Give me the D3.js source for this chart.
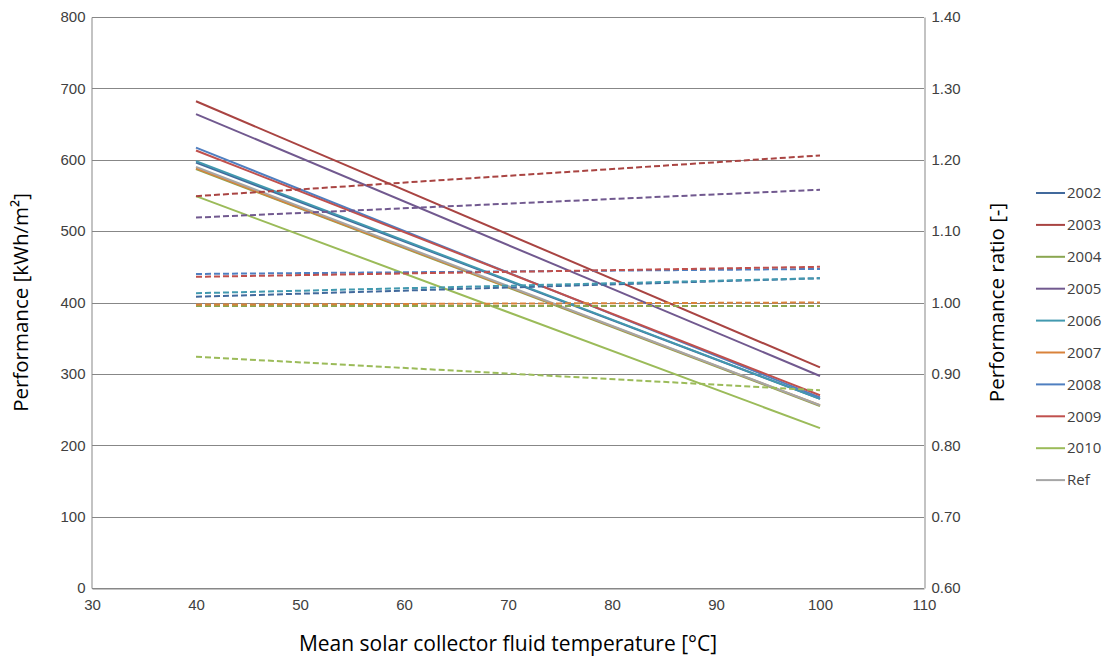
<!DOCTYPE html>
<html>
<head>
<meta charset="utf-8">
<script src="https://cdn.jsdelivr.net/npm/d3@7"></script>
<style>
  html, body { margin: 0; padding: 0; background: #fff; }
  svg { display: block; font-family: "Open Sans", "Noto Sans", sans-serif; }
</style>
</head>
<body>
<svg id="chart" width="1105" height="657"></svg>
<script>
// Series names and colours
const seriesNames = ["2002", "2003", "2004", "2005", "2006", "2007", "2008", "2009", "2010", "Ref"];
const seriesColors = ["#41699c", "#a94442", "#8aa650", "#71598f", "#4299af", "#d9823b", "#4f7fc0", "#c0504d", "#9bbb59", "#a6a6a6"];

// Mean fluid temperature at the two ends of each line [°C]
const temperatures = [40, 100];

// Annual performance [kWh/m²] at 40 °C and 100 °C (solid lines, left axis)
const perf2002 = [596, 265];
const perf2003 = [682, 309];
const perf2004 = [587, 255];
const perf2005 = [664, 297];
const perf2006 = [598, 265];
const perf2007 = [588, 256];
const perf2008 = [617, 267];
const perf2009 = [613, 270];
const perf2010 = [549, 224];
const perfRef  = [590, 256];

// Performance ratio relative to the reference (dashed lines, right axis)
const ratio2002 = [1.008, 1.034];
const ratio2003 = [1.149, 1.206];
const ratio2004 = [0.995, 0.995];
const ratio2005 = [1.119, 1.158];
const ratio2006 = [1.013, 1.034];
const ratio2007 = [0.997, 1.000];
const ratio2008 = [1.040, 1.047];
const ratio2009 = [1.036, 1.050];
const ratio2010 = [0.924, 0.877];

// Axis ticks
const xTicks = [30, 40, 50, 60, 70, 80, 90, 100, 110];
const yLeftTicks = [0, 100, 200, 300, 400, 500, 600, 700, 800];
const yRightTicks = [0.6, 0.7, 0.8, 0.9, 1.0, 1.1, 1.2, 1.3, 1.4];

const performance = [perf2002, perf2003, perf2004, perf2005, perf2006, perf2007, perf2008, perf2009, perf2010, perfRef];
const ratios = [ratio2002, ratio2003, ratio2004, ratio2005, ratio2006, ratio2007, ratio2008, ratio2009, ratio2010];

const svg = d3.select("#chart");
const plot = { left: 92, right: 924, top: 17, bottom: 588 };

const x = d3.scaleLinear().domain([30, 110]).range([plot.left, plot.right]);
const yL = d3.scaleLinear().domain([0, 800]).range([plot.bottom, plot.top]);
const yR = d3.scaleLinear().domain([0.6, 1.4]).range([plot.bottom, plot.top]);

const gridColor = "#878787";
const textColor = "#404040";

// Horizontal gridlines
svg.append("g")
  .selectAll("line")
  .data(yLeftTicks)
  .join("line")
  .attr("x1", plot.left).attr("x2", plot.right)
  .attr("y1", d => Math.round(yL(d)) + 0.5).attr("y2", d => Math.round(yL(d)) + 0.5)
  .attr("stroke", gridColor).attr("stroke-width", 1);

// Axes (no tick marks, only the axis line and labels)
const axisBottom = d3.axisBottom(x).tickValues(xTicks).tickSize(0).tickPadding(9).tickFormat(d3.format("d"));
const axisLeft = d3.axisLeft(yL).tickValues(yLeftTicks).tickSize(0).tickPadding(6).tickFormat(d3.format("d"));
const axisRight = d3.axisRight(yR).tickValues(yRightTicks).tickSize(0).tickPadding(7).tickFormat(d3.format(".2f"));

function styleAxis(g) {
  g.select(".domain").attr("stroke", gridColor).attr("stroke-width", 1);
  g.selectAll("text").attr("fill", textColor).style("font-size", "15px");
}

svg.append("g")
  .attr("transform", `translate(0,${Math.round(plot.bottom) + 0.5})`)
  .call(axisBottom)
  .call(styleAxis)
  .call(g => g.selectAll("text").attr("dy", "0.85em"));

svg.append("g")
  .attr("transform", `translate(${plot.left - 0.5},0)`)
  .call(axisLeft)
  .call(styleAxis);

svg.append("g")
  .attr("transform", `translate(${plot.right + 0.5},0)`)
  .call(axisRight)
  .call(styleAxis);

// Line generators
const lineLeft = d3.line().x((d, i) => x(temperatures[i])).y(d => yL(d));
const lineRight = d3.line().x((d, i) => x(temperatures[i])).y(d => yR(d));

// Solid performance lines
svg.append("g")
  .selectAll("path")
  .data(performance)
  .join("path")
  .attr("d", d => lineLeft(d))
  .attr("fill", "none")
  .attr("stroke", (d, i) => seriesColors[i])
  .attr("stroke-width", 2);

// Dashed performance ratio lines
svg.append("g")
  .selectAll("path")
  .data(ratios)
  .join("path")
  .attr("d", d => lineRight(d))
  .attr("fill", "none")
  .attr("stroke", (d, i) => seriesColors[i])
  .attr("stroke-width", 2)
  .attr("stroke-dasharray", "6,3");

// Axis titles
svg.append("text")
  .attr("transform", `translate(28,${(plot.top + plot.bottom) / 2}) rotate(-90)`)
  .attr("text-anchor", "middle")
  .attr("fill", "#000")
  .style("font-size", "20.5px")
  .text("Performance [kWh/m²]");

svg.append("text")
  .attr("transform", `translate(1004,${(plot.top + plot.bottom) / 2}) rotate(-90)`)
  .attr("text-anchor", "middle")
  .attr("fill", "#000")
  .style("font-size", "20.5px")
  .text("Performance ratio [-]");

svg.append("text")
  .attr("x", (plot.left + plot.right) / 2)
  .attr("y", 651)
  .attr("text-anchor", "middle")
  .attr("fill", "#000")
  .style("font-size", "21px")
  .text("Mean solar collector fluid temperature [°C]");

// Legend
const legend = svg.append("g").attr("transform", "translate(1036,193)");
const rows = legend.selectAll("g")
  .data(seriesNames)
  .join("g")
  .attr("transform", (d, i) => `translate(0,${i * 31.9})`);
rows.append("line")
  .attr("x1", 0).attr("x2", 29).attr("y1", 0).attr("y2", 0)
  .attr("stroke", (d, i) => seriesColors[i])
  .attr("stroke-width", 2);
rows.append("text")
  .attr("x", 31).attr("y", 0).attr("dy", "0.35em")
  .attr("fill", textColor)
  .style("font-size", "15px")
  .text(d => d);
</script>
</body>
</html>
